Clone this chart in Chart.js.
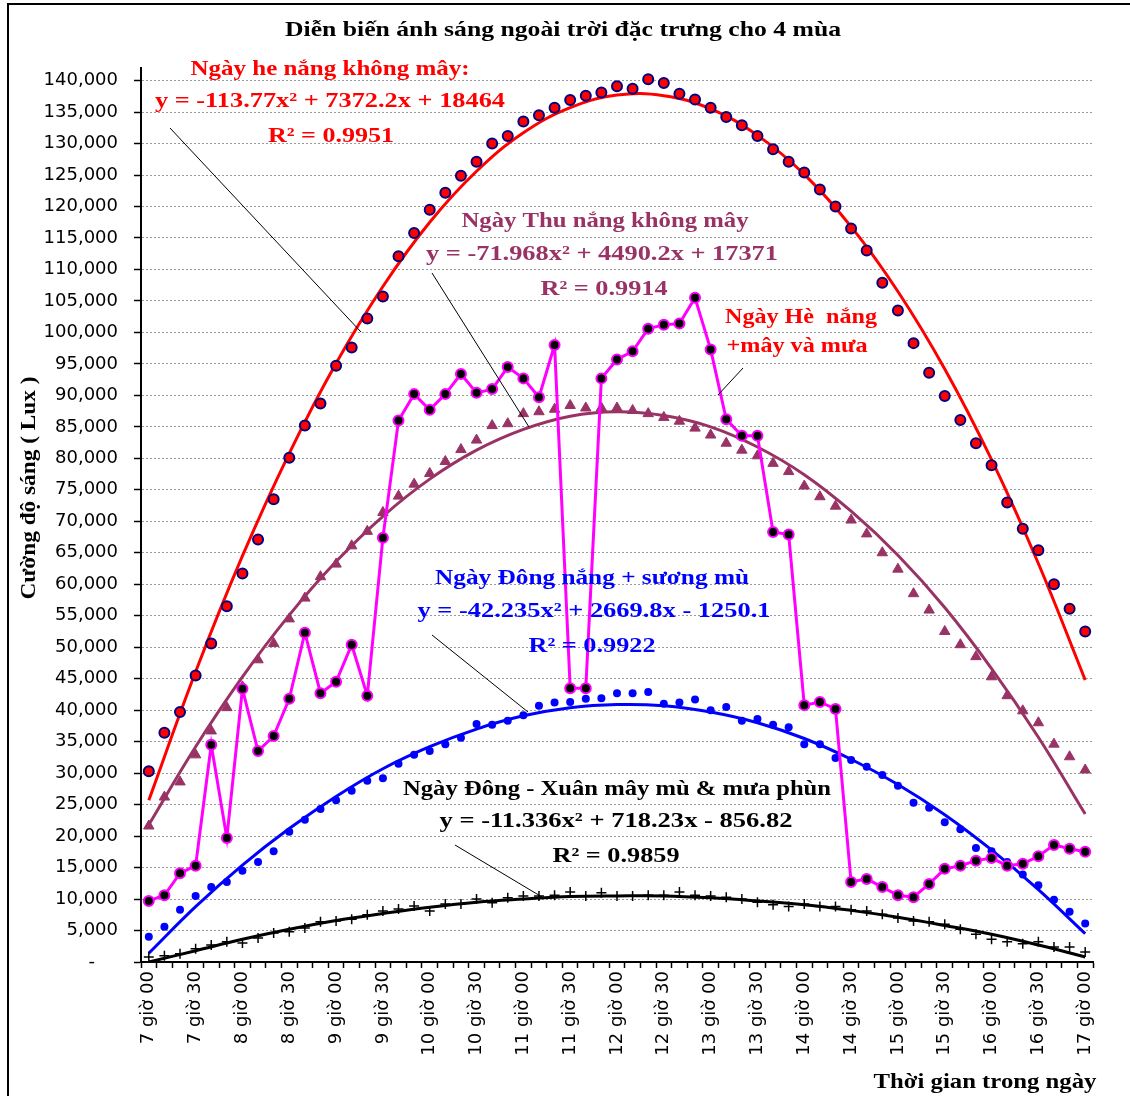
<!DOCTYPE html>
<html>
<head>
<meta charset="utf-8">
<script src="https://cdn.jsdelivr.net/npm/chart.js@4.4.0/dist/chart.umd.min.js"></script>
<style>
html, body { margin: 0; padding: 0; background: #fff; }
canvas { display: block; }
</style>
</head>
<body>
<canvas id="chart" width="1130" height="1096"></canvas>
<script>
// time axis: one reading every 10 minutes, a label every 30 minutes
var tickLabels = ['7 giờ 00', '7 giờ 30', '8 giờ 00', '8 giờ 30', '9 giờ 00', '9 giờ 30',
    '10 giờ 00', '10 giờ 30', '11 giờ 00', '11 giờ 30', '12 giờ 00', '12 giờ 30',
    '13 giờ 00', '13 giờ 30', '14 giờ 00', '14 giờ 30', '15 giờ 00', '15 giờ 30',
    '16 giờ 00', '16 giờ 30', '17 giờ 00'];
var categories = [];
for (var h = 7; h <= 17; h++) {
    for (var m = 0; m < 60; m += 10) {
        if (h === 17 && m > 0) break;
        categories.push(h + ' giờ ' + (m === 0 ? '00' : m));
    }
}

// measured points (Lux)
var heNang = [30300, 36400, 39700, 45500, 50600, 56500, 61700, 67100, 73500, 80100,
    85200, 88700, 94700, 97600, 102200, 105700, 112100, 115800, 119500, 122200,
    124900, 127100, 130000, 131200, 133500, 134500, 135700, 136900, 137600, 138100,
    139100, 138700, 140200, 139600, 137900, 137000, 135700, 134200, 132900, 131200,
    129100, 127100, 125400, 122700, 120000, 116500, 113000, 107900, 103500, 98300,
    93600, 89900, 86100, 82400, 78900, 73000, 68800, 65400, 60000, 56100, 52500];
var thuNang = [21600, 26200, 28600, 32900, 36700, 40400, 43700, 48000, 50600, 54500,
    57800, 61200, 63200, 66100, 68400, 71400, 74000, 75900, 77600, 79500,
    81400, 82900, 85200, 85500, 87100, 87400, 87800, 88400, 88000, 88000,
    88000, 87600, 87100, 86500, 85900, 84800, 83700, 82400, 81300, 80400,
    79200, 77900, 75600, 73900, 72400, 70200, 68000, 65000, 62400, 58500,
    55900, 52500, 50400, 48500, 45300, 42300, 39900, 38000, 34600, 32600, 30500];
var heMua = [9700, 10600, 14100, 15300, 34500, 19700, 43400, 33500, 35900, 41800,
    52300, 42700, 44500, 50400, 42300, 67400, 86000, 90200, 87700, 90200,
    93400, 90400, 91000, 94500, 92700, 89700, 98000, 43500, 43500, 92700,
    95700, 97000, 100600, 101200, 101400, 105500, 97300, 86200, 83600, 83600,
    68300, 67900, 40800, 41300, 40200, 12700, 13200, 11900, 10600, 10300,
    12400, 14800, 15300, 16100, 16500, 15300, 15600, 16800, 18600, 18000, 17500];
var dongSuong = [4000, 5600, 8300, 10500, 11900, 12700, 14500, 15900, 17600, 20700,
    22600, 24300, 25700, 27200, 28800, 29200, 31500, 32900, 33500, 34600,
    35600, 37800, 37700, 38300, 39200, 40700, 41200, 41300, 41800, 41900,
    42700, 42700, 42900, 41000, 41200, 41700, 40000, 40500, 38300, 38600,
    37700, 37300, 34600, 34600, 32400, 32100, 31000, 29700, 28000, 25300,
    24500, 22200, 21100, 18100, 17600, 15900, 13900, 12200, 9900, 8000, 6100];
var dongXuan = [800, 1000, 1300, 2100, 2700, 3200, 3000, 3800, 4600, 4800,
    5400, 6400, 6500, 6800, 7500, 8100, 8400, 8900, 8100, 9200,
    9200, 10000, 9400, 10200, 10500, 10500, 10600, 11100, 10500, 11000,
    10500, 10500, 10600, 10600, 11100, 10600, 10500, 10300, 10000, 9500,
    9100, 8800, 9200, 8800, 8800, 8300, 8100, 7600, 7000, 6500,
    6400, 6000, 5200, 4400, 3600, 3200, 2900, 3200, 2400, 2400, 1600];

// trend lines read at every labelled half hour
var trendHe = [25700, 46100, 64500, 80800, 95100, 107300, 117500, 125600, 131700, 135700, 137700,
    137600, 135500, 131300, 125100, 116800, 106500, 94200, 79800, 63300, 44800];
var trendThu = [21800, 34200, 45300, 55100, 63600, 70800, 76700, 81300, 84600, 86700, 87400,
    86800, 85000, 81800, 77400, 71600, 64600, 56300, 46600, 35700, 23500];
var trendDong = [1400, 8800, 15400, 21200, 26300, 30700, 34200, 37000, 39100, 40400, 40900,
    40700, 39700, 38000, 35500, 32200, 28200, 23400, 17800, 11500, 4500];
var trendXuan = [0, 1800, 3600, 5200, 6600, 7700, 8700, 9500, 10000, 10400, 10500,
    10500, 10200, 9700, 9100, 8200, 7100, 5800, 4400, 2700, 800];

// value axis: labelled every 5,000 up to 140,000, axis runs a little higher
var Y_MAX = 142000;
var Y_LAST_TICK = 140000;
var Y_STEP = 5000;

function onLabelled(vals) {
    var out = [];
    for (var i = 0; i < categories.length; i++) {
        out.push(i % 3 === 0 ? vals[i / 3] : null);
    }
    return out;
}

var SERIF = '"Liberation Serif", "Times New Roman", serif';
var RED = '#ff0000', PLUM = '#993366', BLUE = '#0000ff', MAGENTA = '#ff00ff';

var notes = [
    {t: 'Diễn biến ánh sáng ngoài trời đặc trưng cho 4 mùa', c: '#000', x: 563, y: 31, w: 556},
    {t: 'Ngày he nắng không mây:', c: RED, x: 330, y: 70, w: 279},
    {t: 'y = -113.77x² + 7372.2x + 18464', c: RED, x: 330, y: 102, w: 350},
    {t: 'R² = 0.9951', c: RED, x: 331, y: 137, w: 126},
    {t: 'Ngày Thu nắng không mây', c: PLUM, x: 605, y: 222, w: 287},
    {t: 'y = -71.968x² + 4490.2x + 17371', c: PLUM, x: 602, y: 255, w: 352},
    {t: 'R² = 0.9914', c: PLUM, x: 604, y: 290, w: 127},
    {t: 'Ngày Hè  nắng', c: RED, x: 801, y: 318, w: 152},
    {t: '+mây và mưa', c: RED, x: 797, y: 347, w: 141},
    {t: 'Ngày Đông nắng + sương mù', c: BLUE, x: 592, y: 579, w: 314},
    {t: 'y = -42.235x² + 2669.8x - 1250.1', c: BLUE, x: 594, y: 612, w: 353},
    {t: 'R² = 0.9922', c: BLUE, x: 592, y: 647, w: 127},
    {t: 'Ngày Đông - Xuân mây mù & mưa phùn', c: '#000', x: 617, y: 790, w: 428},
    {t: 'y = -11.336x² + 718.23x - 856.82', c: '#000', x: 616, y: 822, w: 353},
    {t: 'R² = 0.9859', c: '#000', x: 616, y: 857, w: 127},
    {t: 'Thời gian trong ngày', c: '#000', x: 985, y: 1083, w: 223},
    {t: 'Cường độ sáng ( Lux )', c: '#000', x: 30, y: 488, w: 223, rot: -Math.PI / 2}
];
var leaders = [
    [170, 128, 361, 332],
    [432, 273, 529, 427],
    [743, 368, 718, 395],
    [432, 635, 528, 712],
    [455, 845, 542, 897]
];

var decorations = {
    id: 'decorations',
    beforeDraw: function (chart) {
        var ctx = chart.ctx;
        ctx.save();
        ctx.fillStyle = '#fff';
        ctx.fillRect(0, 0, chart.width, chart.height);
        ctx.strokeStyle = '#000';
        ctx.lineWidth = 2;
        ctx.beginPath();
        ctx.moveTo(8, chart.height);
        ctx.lineTo(8, 4);
        ctx.lineTo(chart.width, 4);
        ctx.stroke();
        ctx.restore();
    },
    afterDatasetsDraw: function (chart) {
        var ctx = chart.ctx;
        ctx.save();
        ctx.strokeStyle = '#000';
        ctx.lineWidth = 1;
        leaders.forEach(function (l) {
            ctx.beginPath();
            ctx.moveTo(l[0], l[1]);
            ctx.lineTo(l[2], l[3]);
            ctx.stroke();
        });
        notes.forEach(function (n) {
            ctx.save();
            ctx.font = 'bold 21px ' + SERIF;
            ctx.fillStyle = n.c;
            ctx.textAlign = 'center';
            ctx.textBaseline = 'middle';
            var sx = n.w / ctx.measureText(n.t).width;
            ctx.translate(n.x, n.y);
            if (n.rot) ctx.rotate(n.rot);
            ctx.scale(sx, 1);
            ctx.fillText(n.t, 0, 0);
            ctx.restore();
        });
        ctx.restore();
    }
};

new Chart(document.getElementById('chart'), {
    type: 'line',
    data: {
        labels: categories,
        datasets: [{
            data: heMua,
            borderColor: MAGENTA,
            borderWidth: 3,
            pointBackgroundColor: '#000',
            pointBorderColor: MAGENTA,
            pointBorderWidth: 2,
            pointRadius: 5
        }, {
            data: heNang,
            showLine: false,
            pointBackgroundColor: RED,
            pointBorderColor: '#000080',
            pointBorderWidth: 2,
            pointRadius: 5
        }, {
            data: thuNang,
            showLine: false,
            pointStyle: 'triangle',
            pointBackgroundColor: PLUM,
            pointBorderColor: PLUM,
            pointBorderWidth: 1,
            pointRadius: 6
        }, {
            data: dongSuong,
            showLine: false,
            pointBackgroundColor: BLUE,
            pointBorderColor: BLUE,
            pointBorderWidth: 0,
            pointRadius: 4
        }, {
            data: dongXuan,
            showLine: false,
            pointStyle: 'cross',
            pointBorderColor: '#000',
            pointBorderWidth: 1.5,
            pointRadius: 5
        }, {
            data: onLabelled(trendHe),
            borderColor: RED, borderWidth: 3, pointRadius: 0, spanGaps: true, tension: 0.4
        }, {
            data: onLabelled(trendThu),
            borderColor: PLUM, borderWidth: 3, pointRadius: 0, spanGaps: true, tension: 0.4
        }, {
            data: onLabelled(trendDong),
            borderColor: BLUE, borderWidth: 3, pointRadius: 0, spanGaps: true, tension: 0.4
        }, {
            data: onLabelled(trendXuan),
            borderColor: '#000', borderWidth: 3, pointRadius: 0, spanGaps: true, tension: 0.4
        }]
    },
    options: {
        responsive: false,
        animation: false,
        devicePixelRatio: 1,
        layout: {padding: {left: 0, top: 68, right: 37, bottom: 0}},
        plugins: {legend: {display: false}, title: {display: false}, tooltip: {enabled: false}},
        scales: {
            x: {
                offset: true,
                grid: {offset: true, drawOnChartArea: false, tickLength: 6, tickColor: '#000', tickWidth: 1.5},
                border: {color: '#000', width: 2},
                ticks: {
                    autoSkip: false,
                    minRotation: 90,
                    maxRotation: 90,
                    padding: 3,
                    color: '#000',
                    font: {family: '"DejaVu Sans", sans-serif', size: 18},
                    callback: function (value, index) {
                        return index % 3 === 0 ? tickLabels[index / 3] : '';
                    }
                },
                afterFit: function (scale) { scale.height = 134; }
            },
            y: {
                min: 0,
                max: Y_MAX,
                grid: {color: '#9a9a9a', tickColor: '#000', tickLength: 7, tickWidth: 1.5},
                border: {color: '#000', width: 2, dash: [2, 2]},
                ticks: {
                    autoSkip: false,
                    padding: 16,
                    color: '#000',
                    font: {family: '"DejaVu Sans", sans-serif', size: 18},
                    callback: function (value) {
                        return value === 0 ? '-    ' : value.toLocaleString('en-US');
                    }
                },
                afterBuildTicks: function (scale) {
                    var t = [];
                    for (var v = 0; v <= Y_LAST_TICK; v += Y_STEP) t.push({value: v});
                    scale.ticks = t;
                },
                afterFit: function (scale) { scale.width = 141; }
            }
        }
    },
    plugins: [decorations]
});
</script>
</body>
</html>
